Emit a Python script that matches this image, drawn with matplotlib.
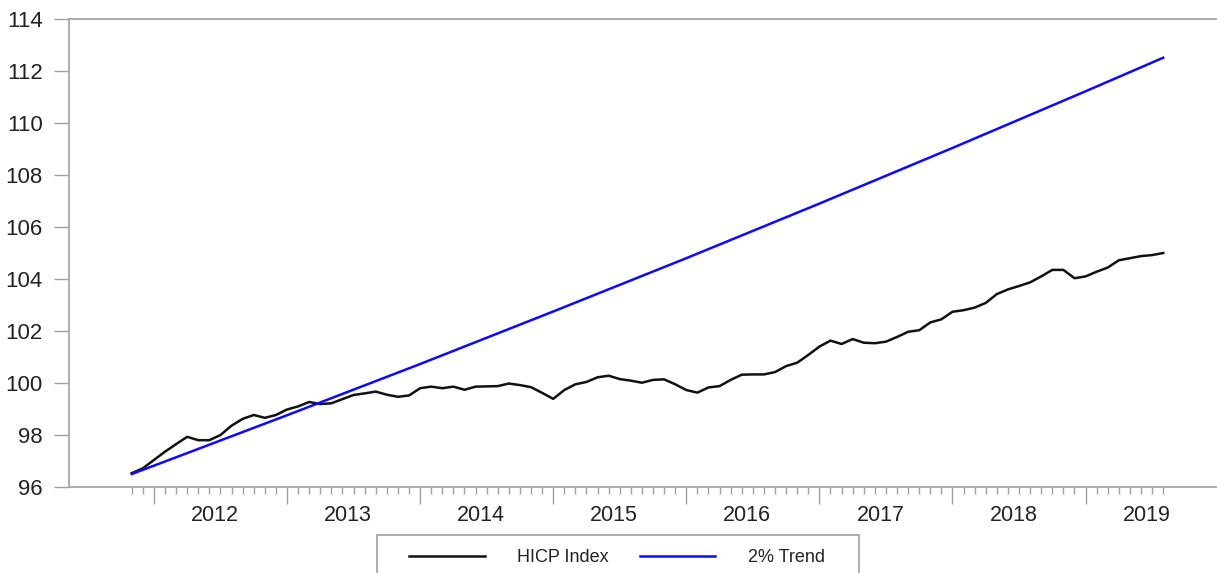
import numpy as np
import matplotlib
matplotlib.use("Agg")
import matplotlib.pyplot as plt
from matplotlib.ticker import FixedLocator, NullFormatter
from matplotlib.patches import Rectangle

# --- Data (monthly, Nov 2011 .. Aug 2019), month index 0 = Jan 2012 ---
start_month = -2
hicp = [
    96.53, 96.72,                                                    # 2011 Nov-Dec
    97.04, 97.36, 97.65, 97.93, 97.80, 97.80, 98.00, 98.36, 98.62, 98.77, 98.66, 98.77,  # 2012
    98.98, 99.10, 99.27, 99.19, 99.22, 99.38, 99.54, 99.60, 99.67, 99.55, 99.47, 99.52,  # 2013
    99.80, 99.86, 99.80, 99.86, 99.74, 99.86, 99.87, 99.88, 99.98, 99.92, 99.84, 99.62,  # 2014
    99.39, 99.73, 99.95, 100.04, 100.22, 100.28, 100.15, 100.09, 100.01, 100.12, 100.14, 99.95,  # 2015
    99.73, 99.63, 99.83, 99.88, 100.12, 100.32, 100.33, 100.33, 100.42, 100.65, 100.78, 101.08,  # 2016
    101.40, 101.63, 101.50, 101.69, 101.55, 101.53, 101.59, 101.77, 101.97, 102.03, 102.33, 102.45,  # 2017
    102.74, 102.80, 102.90, 103.08, 103.42, 103.60, 103.73, 103.87, 104.10, 104.35, 104.35, 104.03,  # 2018
    104.10, 104.28, 104.44, 104.72, 104.80, 104.88, 104.92, 105.00,  # 2019 Jan-Aug
]
trend_months = [-2, 0, 12, 24, 36, 48, 60, 72, 84, 91]
trend_values = [96.50, 96.82, 98.76, 100.73, 102.75, 104.80, 106.90, 109.04, 111.22, 112.51]
years = ["2012", "2013", "2014", "2015", "2016", "2017", "2018", "2019"]
y_ticks = [96, 98, 100, 102, 104, 106, 108, 110, 112, 114]

months = np.arange(len(hicp)) + start_month

plt.rcParams["font.family"] = ["Liberation Sans", "DejaVu Sans"]
grey = "#a0a0a0"
W, H = 1217, 573

fig = plt.figure(figsize=(W / 100, H / 100), dpi=100)
ax = fig.add_axes([69 / W, 86 / H, 1 - 69 / W, 468 / H])

ax.plot(months, hicp, color="#111111", lw=1.8, label="HICP Index")
ax.plot(trend_months, trend_values, color="#0a0aff", lw=1.8, label="2% Trend")

ax.set_xlim(-7.66, 95.85)
ax.set_ylim(96, 114)

ax.set_yticks(y_ticks)
ax.tick_params(axis="y", direction="out", length=11, width=1, color=grey,
               labelsize=16, pad=8, labelcolor="#222222")

# x: long ticks at each January, short ticks every month, year labels mid-year
year_starts = [12 * i for i in range(len(years))]
ax.xaxis.set_major_locator(FixedLocator(year_starts))
ax.xaxis.set_major_formatter(NullFormatter())
ax.xaxis.set_minor_locator(FixedLocator(list(months)))
ax.tick_params(axis="x", which="major", direction="out", length=12, width=1, color=grey)
ax.tick_params(axis="x", which="minor", direction="out", length=5, width=1, color=grey)
for i, yr in enumerate(years):
    ax.text(12 * i + 5.5, -0.061, yr, transform=ax.get_xaxis_transform(),
            ha="center", va="center", fontsize=15.5, color="#222222")

for side in ["left", "bottom", "top"]:
    ax.spines[side].set_color(grey)
    ax.spines[side].set_linewidth(1.2)
ax.spines["right"].set_visible(False)

# legend box (runs off the bottom edge like the original)
fig.patches.append(Rectangle((377 / W, -0.05), (859 - 377) / W, (H - 535) / H + 0.05,
                             transform=fig.transFigure, fill=False,
                             edgecolor=grey, lw=1.2))
leg = fig.legend(loc="center", bbox_to_anchor=(617 / W, 1 - 558 / H),
                 ncol=2, fontsize=13, frameon=False,
                 handlelength=4.2, handletextpad=1.8, columnspacing=1.7,
                 borderpad=0, borderaxespad=0)
for t in leg.get_texts():
    t.set_color("#222222")

fig.savefig("out.png", dpi=100)
